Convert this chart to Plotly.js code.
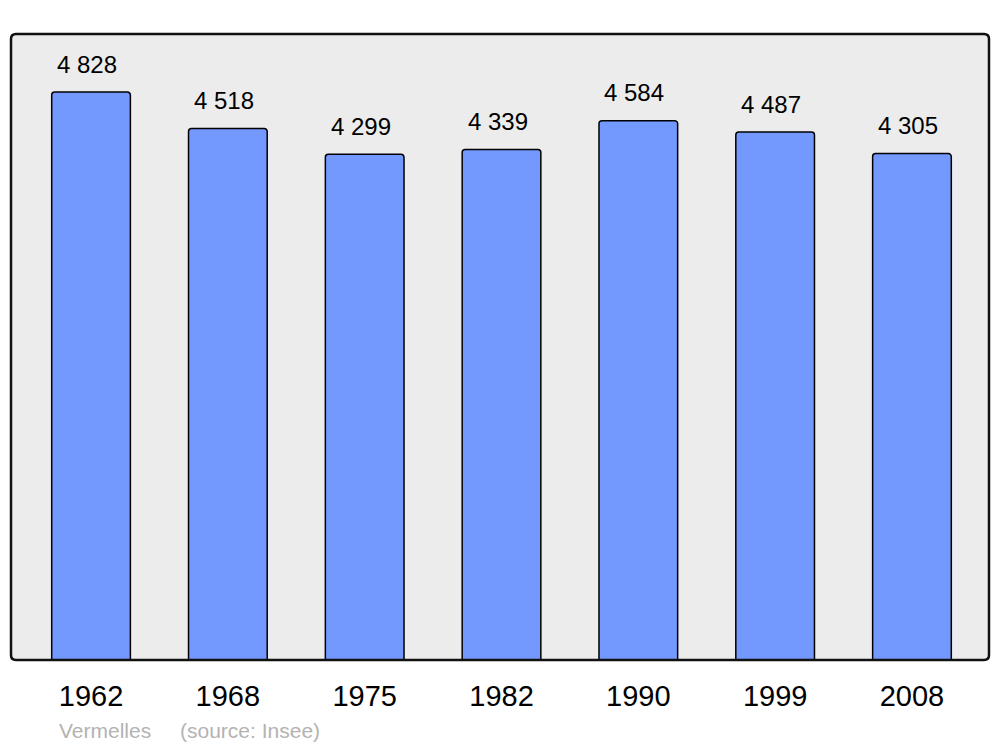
<!DOCTYPE html>
<html>
<head>
<meta charset="utf-8">
<script src="https://cdn.plot.ly/plotly-3.0.1.min.js"></script>
<style>html,body{margin:0;padding:0;background:#fff;}#chart{width:1000px;height:747px;}</style>
</head>
<body>
<div id="chart"></div>
<script>
const years = ["1962", "1968", "1975", "1982", "1990", "1999", "2008"];
const population = [4828, 4518, 4299, 4339, 4584, 4487, 4305];
const townName = "Vermelles";
const sourceNote = "(source: Insee)";

function fmt(v) {
  const s = String(v);
  return s.length > 3 ? s.slice(0, s.length - 3) + "\u00a0" + s.slice(-3) : s;
}

const W = 978, H = 626;
const rx = 5 / W, ry = 5 / H;
const framePath = `M ${rx},0 L ${1 - rx},0 Q 1,0 1,${ry} L 1,${1 - ry} Q 1,1 ${1 - rx},1 L ${rx},1 Q 0,1 0,${1 - ry} L 0,${ry} Q 0,0 ${rx},0 Z`;

const trace = {
  type: "bar",
  x: years,
  y: population,
  width: 0.575,
  marker: { color: "#7399ff", line: { color: "#000", width: 1.5 }, cornerradius: 3 },
  hoverinfo: "skip"
};

const annotations = years.map((yr, i) => ({
  x: i, y: population[i], xref: "x", yref: "y",
  text: fmt(population[i]), showarrow: false,
  yanchor: "middle", yshift: 28, xshift: -4,
  font: { family: "Liberation Sans, Arial, sans-serif", size: 24, color: "#000" }
}));
annotations.push({
  xref: "paper", yref: "paper", x: 0.047, y: 0, xanchor: "left", yanchor: "middle", yshift: -70,
  text: townName, showarrow: false,
  font: { family: "Liberation Sans, Arial, sans-serif", size: 21, color: "#b3b3b3" }
});
annotations.push({
  xref: "paper", yref: "paper", x: 0.171, y: 0, xanchor: "left", yanchor: "middle", yshift: -70,
  text: sourceNote, showarrow: false,
  font: { family: "Liberation Sans, Arial, sans-serif", size: 21, color: "#b3b3b3" }
});

const layout = {
  width: 1000, height: 747,
  margin: { l: 11, r: 11, t: 34, b: 87, pad: 0 },
  paper_bgcolor: "#ffffff",
  plot_bgcolor: "rgba(0,0,0,0)",
  showlegend: false,
  xaxis: {
    type: "category", range: [-0.585, 6.563],
    showgrid: false, zeroline: false, showline: false, ticks: "",
    ticklabelstandoff: 16,
    tickfont: { family: "Liberation Sans, Arial, sans-serif", size: 29, color: "#000" }
  },
  yaxis: {
    range: [0, 5321], showgrid: false, zeroline: false, showline: false,
    showticklabels: false, ticks: ""
  },
  shapes: [
    { type: "path", xref: "paper", yref: "paper", path: framePath,
      fillcolor: "#ececec", line: { width: 0 }, layer: "below" },
    { type: "path", xref: "paper", yref: "paper", path: framePath,
      fillcolor: "rgba(0,0,0,0)", line: { color: "#111", width: 2.5 }, layer: "above" }
  ],
  annotations: annotations
};

Plotly.newPlot("chart", [trace], layout, { displayModeBar: false, staticPlot: true });
</script>
</body>
</html>
